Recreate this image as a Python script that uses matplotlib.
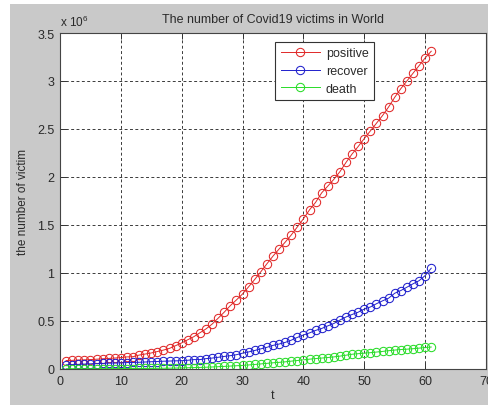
import numpy as np
import matplotlib
matplotlib.use("Agg")
import matplotlib.pyplot as plt
from matplotlib.patches import Rectangle
from matplotlib.ticker import FuncFormatter, MultipleLocator

plt.rcParams['font.family'] = ['Liberation Sans', 'DejaVu Sans']
plt.rcParams['mathtext.fontset'] = 'custom'
plt.rcParams['mathtext.rm'] = 'Liberation Sans'
plt.rcParams['mathtext.it'] = 'Liberation Sans'

# Daily cumulative world counts, in millions of people, t = 1 .. 61
t = np.arange(1, 62)
positive = np.array([
    0.088, 0.090, 0.093, 0.095, 0.098, 0.102, 0.106, 0.110, 0.114, 0.119,
    0.126, 0.128, 0.145, 0.156, 0.167, 0.182, 0.197, 0.215, 0.243, 0.272,
    0.305, 0.337, 0.378, 0.418, 0.468, 0.530, 0.593, 0.661, 0.720, 0.782,
    0.857, 0.933, 1.013, 1.096, 1.176, 1.250, 1.321, 1.396, 1.480, 1.565,
    1.658, 1.736, 1.835, 1.905, 1.976, 2.056, 2.152, 2.240, 2.318, 2.401,
    2.480, 2.560, 2.640, 2.730, 2.830, 2.920, 3.000, 3.080, 3.160, 3.240,
    3.310])
recover = np.array([
    0.043, 0.046, 0.048, 0.051, 0.054, 0.056, 0.058, 0.061, 0.062, 0.064,
    0.067, 0.068, 0.070, 0.073, 0.076, 0.078, 0.081, 0.083, 0.085, 0.087,
    0.091, 0.098, 0.098, 0.108, 0.114, 0.122, 0.131, 0.139, 0.149, 0.165,
    0.178, 0.193, 0.210, 0.226, 0.246, 0.260, 0.277, 0.300, 0.329, 0.354,
    0.376, 0.402, 0.422, 0.449, 0.474, 0.510, 0.542, 0.568, 0.592, 0.624,
    0.646, 0.680, 0.710, 0.738, 0.789, 0.817, 0.852, 0.887, 0.920, 0.973,
    1.050])
death = np.array([
    0.0030, 0.0031, 0.0032, 0.0033, 0.0033, 0.0035, 0.0036, 0.0038, 0.0040, 0.0043,
    0.0046, 0.0047, 0.0054, 0.0058, 0.0064, 0.0071, 0.0079, 0.0087, 0.0099, 0.0113,
    0.0130, 0.0146, 0.0165, 0.0186, 0.0212, 0.0240, 0.0272, 0.0307, 0.0339, 0.0376,
    0.0421, 0.0472, 0.0530, 0.0588, 0.0646, 0.0694, 0.0746, 0.0819, 0.0883, 0.0955,
    0.1025, 0.1085, 0.1141, 0.1195, 0.1260, 0.1342, 0.1438, 0.1538, 0.1595, 0.1650,
    0.1700, 0.1766, 0.1831, 0.1909, 0.1972, 0.2028, 0.2065, 0.2112, 0.2172, 0.2240,
    0.2290])
labels = ['positive', 'recover', 'death']
colors = ['#e02828', '#2020cc', '#28dc28']
scale = 1e6

W, H = 488, 406
fig = plt.figure(figsize=(W / 100, H / 100), dpi=100, facecolor='white')
fig.patches.append(Rectangle((10 / W, 0), 1 - 10 / W, 1 - 5 / H,
                             transform=fig.transFigure, facecolor='#c9c9c9',
                             edgecolor='none', zorder=-10))

ax = fig.add_axes([60 / W, 1 - 370 / H, (486 - 60) / W, (370 - 34) / H])
ax.set_facecolor('white')

for series, lab, col in zip([positive, recover, death], labels, colors):
    ax.plot(t, series * scale, color=col, linewidth=0.7, marker='o',
            markersize=6, markerfacecolor='none', markeredgewidth=0.75,
            markeredgecolor=col, label=lab)

ax.set_xlim(0, 70)
ax.set_ylim(0, 3.5e6)
ax.xaxis.set_major_locator(MultipleLocator(10))
ax.yaxis.set_major_locator(MultipleLocator(0.5e6))
ax.yaxis.set_major_formatter(FuncFormatter(lambda v, p: f'{v / scale:g}'))

txt = '#2a2a2a'
ax.grid(True, color='#3a3a3a', linestyle=(0, (3, 2.5)), linewidth=0.7)
ax.tick_params(direction='in', length=4, width=0.7, top=True, right=True,
               labelsize=9, colors='#333333', labelcolor=txt, pad=4)
for s in ax.spines.values():
    s.set_color('#444444')
    s.set_linewidth(0.8)

ax.set_title('The number of Covid19 victims in World', fontsize=9,
             color=txt, pad=8)
ax.set_xlabel('t', fontsize=9, color=txt, labelpad=2)
ax.set_ylabel('the number of victim', fontsize=8.5, color=txt, labelpad=6)
ax.text(0, 1.012, r'x 10$^{6}$', transform=ax.transAxes, fontsize=8.5,
        color=txt, ha='left', va='bottom')

leg = ax.legend(loc='upper left', bbox_to_anchor=(0.505, 0.974),
                borderaxespad=0, fontsize=9, frameon=True, fancybox=False,
                handlelength=3.1, handletextpad=0.5, labelspacing=0.45,
                borderpad=0.45)
leg.get_frame().set_edgecolor('#333333')
leg.get_frame().set_linewidth(0.8)
leg.get_frame().set_facecolor('white')
leg.get_frame().set_alpha(1)
for tx in leg.get_texts():
    tx.set_color(txt)

fig.savefig('out.png', dpi=100, facecolor=fig.get_facecolor())
